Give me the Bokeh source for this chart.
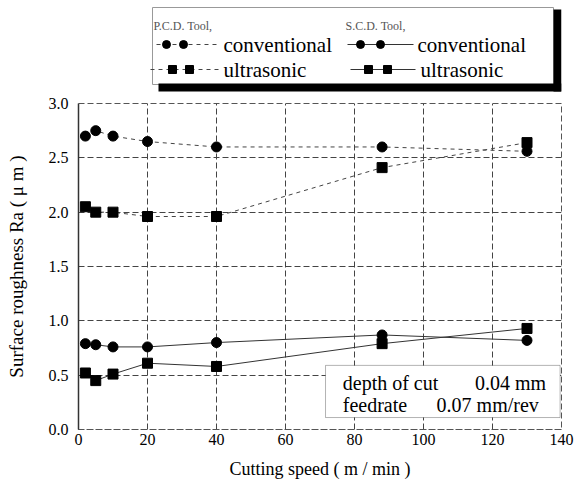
from bokeh.plotting import figure
from bokeh.layouts import column
from bokeh.models import Range1d, Label, BoxAnnotation, FixedTicker, PrintfTickFormatter
from bokeh.embed import file_html
from bokeh.resources import INLINE

# ---- data ----
speed = [2, 5, 10, 20, 40, 88, 130]
pcd_conv = [2.70, 2.75, 2.70, 2.65, 2.60, 2.60, 2.56]
pcd_ultra = [2.05, 2.00, 2.00, 1.96, 1.96, 2.41, 2.64]
scd_conv = [0.79, 0.78, 0.76, 0.76, 0.80, 0.87, 0.82]
scd_ultra = [0.52, 0.45, 0.51, 0.61, 0.58, 0.79, 0.93]
x_ticks = [0, 20, 40, 60, 80, 100, 120, 140]
y_ticks = [0.0, 0.5, 1.0, 1.5, 2.0, 2.5, 3.0]

FONT = "Liberation Serif"
W = 576
BL, BR = 78, 15  # borders shared by both figures (frames are aligned in the column)
H1 = 92

# ---- legend figure (pixel coordinates) ----
leg = figure(width=W, height=H1, x_range=Range1d(BL, W - BR), y_range=Range1d(H1, 0),
             output_backend="svg", toolbar_location=None, x_axis_type=None, y_axis_type=None,
             min_border_left=BL, min_border_right=BR, min_border_top=0, min_border_bottom=0,
             outline_line_color=None)
leg.xgrid.visible = False
leg.ygrid.visible = False
leg.quad(left=[152], right=[553], top=[7], bottom=[84], fill_color="white",
         line_color="#999999", line_width=1)
leg.quad(left=[158], right=[561], top=[83], bottom=[91], fill_color="black", line_color=None)
leg.quad(left=[553], right=[561], top=[9], bottom=[91], fill_color="black", line_color=None)

for txt, x in [("P.C.D. Tool,", 153), ("S.C.D. Tool,", 345)]:
    leg.add_layout(Label(x=x, y=25, text=txt, text_font=FONT, text_font_size="12px",
                         text_color="#555555", text_baseline="middle"))
for txt, x, y in [("conventional", 223, 44), ("conventional", 417, 44),
                  ("ultrasonic", 223, 69), ("ultrasonic", 420, 69)]:
    leg.add_layout(Label(x=x, y=y, text=txt, text_font=FONT, text_font_size="21px",
                         text_color="black", text_baseline="middle"))

leg.line([156, 220], [44, 44], line_color="#444444", line_dash="4 4", line_width=1)
leg.scatter([166, 183], [44, 44], marker="circle", size=8, color="black")
leg.line([150, 220], [69, 69], line_color="#444444", line_dash="4 4", line_width=1)
leg.scatter([172, 189], [69, 69], marker="square", size=8, color="black")
leg.line([347, 413], [44, 44], line_color="#333333", line_width=1)
leg.scatter([360, 380], [44, 44], marker="circle", size=8, color="black")
leg.line([350, 415], [69, 69], line_color="#333333", line_width=1)
leg.scatter([368, 387], [69, 69], marker="square", size=8, color="black")

# ---- main figure ----
p = figure(width=W, height=489 - H1, x_range=Range1d(0, 140), y_range=Range1d(0, 3.0),
           output_backend="svg", toolbar_location=None,
           min_border_left=BL, min_border_right=BR, min_border_top=103 - H1,
           min_border_bottom=489 - 429,
           outline_line_color="#555555", outline_line_dash="6 3")

p.xgrid.ticker = FixedTicker(ticks=x_ticks)
p.ygrid.ticker = FixedTicker(ticks=y_ticks)
for g in (p.xgrid, p.ygrid):
    g.grid_line_color = "#444444"
    g.grid_line_dash = "6 3"
    g.grid_line_width = 1

p.xaxis.ticker = FixedTicker(ticks=x_ticks)
p.yaxis.ticker = FixedTicker(ticks=y_ticks)
p.yaxis.formatter = PrintfTickFormatter(format="%.1f")
for ax in (p.xaxis, p.yaxis):
    ax.major_tick_line_color = None
    ax.minor_tick_line_color = None
    ax.major_tick_in = 0
    ax.major_tick_out = 0
    ax.minor_tick_in = 0
    ax.minor_tick_out = 0
    ax.major_label_text_font = FONT
    ax.major_label_text_font_size = "16px"
    ax.major_label_text_color = "black"
    ax.axis_label_text_font = FONT
    ax.axis_label_text_font_style = "normal"
    ax.axis_label_text_color = "black"
p.xaxis.axis_label_text_font_size = "18px"
p.yaxis.axis_label_text_font_size = "19px"
p.yaxis.axis_line_color = "#333333"
p.yaxis.axis_line_width = 1.5
p.xaxis.axis_line_color = "#555555"
p.xaxis.axis_line_dash = "6 3"
p.xaxis.major_label_standoff = 4
p.yaxis.major_label_standoff = 10
p.xaxis.axis_label = "Cutting speed ( m / min )"
p.yaxis.axis_label = "Surface roughness Ra ( μ m )"
p.xaxis.axis_label_standoff = 11
p.yaxis.axis_label_standoff = 19

# series
p.line(speed, pcd_conv, line_color="#444444", line_dash="4 4", line_width=1)
p.scatter(speed, pcd_conv, marker="circle", size=10, color="black")
p.line(speed, pcd_ultra, line_color="#444444", line_dash="4 4", line_width=1)
p.scatter(speed, pcd_ultra, marker="square", size=10, color="black")
p.line(speed, scd_conv, line_color="#333333", line_width=1)
p.scatter(speed, scd_conv, marker="circle", size=10, color="black")
p.line(speed, scd_ultra, line_color="#333333", line_width=1)
p.scatter(speed, scd_ultra, marker="square", size=10, color="black")

# annotation box
p.add_layout(BoxAnnotation(left=71.6, right=139.6, bottom=0.11, top=0.59,
                           fill_color="white", fill_alpha=1.0,
                           line_color="black", line_width=1))
ann = [("depth of cut", 76.6, 0.43), ("0.04 mm", 114.9, 0.43),
       ("feedrate", 76.6, 0.23), ("0.07 mm/rev", 103.8, 0.23)]
for txt, x, y in ann:
    p.add_layout(Label(x=x, y=y, text=txt, text_font=FONT, text_font_size="20px",
                       text_color="black", text_baseline="middle"))

layout = column(leg, p, spacing=0)
open("out.html", "w").write(file_html(layout, INLINE))
